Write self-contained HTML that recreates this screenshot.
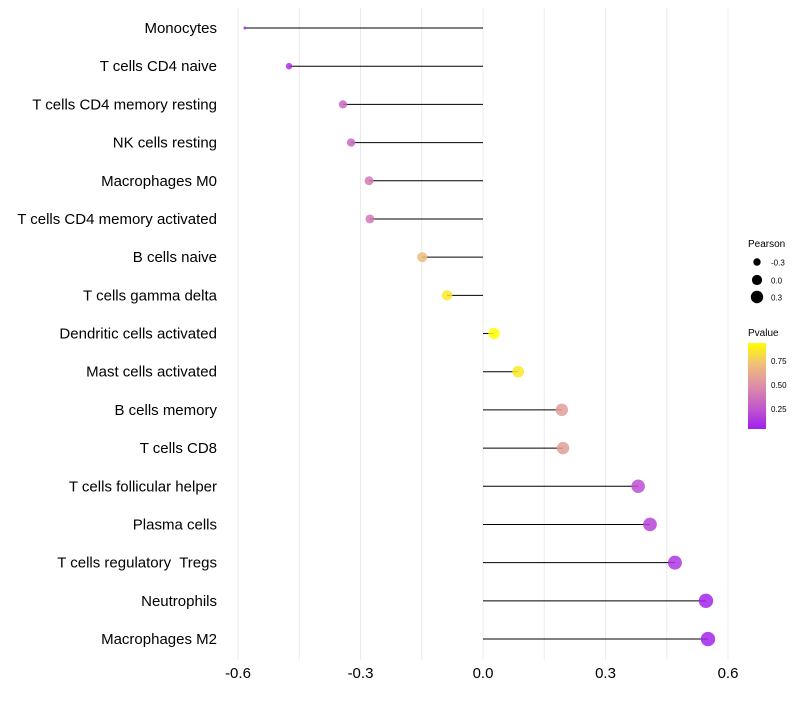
<!DOCTYPE html>
<html><head><meta charset="utf-8"><style>body{margin:0;background:#fff}text{font-family:"Liberation Sans",sans-serif}</style></head>
<body>
<svg id="chart" width="800" height="700" xmlns="http://www.w3.org/2000/svg">
<defs><linearGradient id="pg" x1="0" y1="1" x2="0" y2="0">
<stop offset="0" stop-color="#A020F0"/><stop offset="0.25" stop-color="#C35ACB"/><stop offset="0.5" stop-color="#DC8EA6"/><stop offset="0.75" stop-color="#F0BE7A"/><stop offset="1" stop-color="#FFFF00"/></linearGradient></defs>
<g id="grid"></g><g id="marks"></g><g id="labels"></g>
<g>
<text x="748" y="247" font-size="10">Pearson</text>
<circle cx="757" cy="262" r="3.7" fill="#000"/><text x="771" y="265.5" font-size="8">-0.3</text>
<circle cx="757" cy="280" r="5.1" fill="#000"/><text x="771" y="283.5" font-size="8">0.0</text>
<circle cx="757" cy="297" r="6.2" fill="#000"/><text x="771" y="300.5" font-size="8">0.3</text>
</g>
<g>
<text x="748" y="336" font-size="10">Pvalue</text>
<rect x="748" y="343" width="18" height="86" fill="url(#pg)"/>
<text x="771" y="364" font-size="8">0.75</text>
<text x="771" y="388" font-size="8">0.50</text>
<text x="771" y="412" font-size="8">0.25</text>
</g>
</svg>
<script>
const categories=["Monocytes","T cells CD4 naive","T cells CD4 memory resting","NK cells resting","Macrophages M0","T cells CD4 memory activated","B cells naive","T cells gamma delta","Dendritic cells activated","Mast cells activated","B cells memory","T cells CD8","T cells follicular helper","Plasma cells","T cells regulatory  Tregs","Neutrophils","Macrophages M2"];
const pearson=[-0.583,-0.475,-0.343,-0.323,-0.279,-0.277,-0.149,-0.088,0.027,0.086,0.193,0.196,0.380,0.409,0.470,0.546,0.551];
const pvalue=[0.08,0.12,0.32,0.33,0.40,0.40,0.70,0.85,0.95,0.86,0.56,0.56,0.22,0.19,0.14,0.07,0.07];
const xTicks=[-0.6,-0.3,0,0.3,0.6];
const xTickLabels=["-0.6","-0.3","0.0","0.3","0.6"];
const minorTicks=[-0.45,-0.15,0.15,0.45];
const NS="http://www.w3.org/2000/svg";
const x=v=>483+v*408.33;
const y=i=>28+i*38.19;
const pMin=0.05,pMax=0.93;
const stops=[[0,[160,32,240]],[0.25,[195,90,203]],[0.5,[220,142,166]],[0.75,[240,190,122]],[1,[255,255,0]]];
function col(p){let t=Math.max(0,Math.min(1,(p-pMin)/(pMax-pMin)));for(let k=1;k<stops.length;k++){if(t<=stops[k][0]){const a=stops[k-1],b=stops[k];const f=(t-a[0])/(b[0]-a[0]);const c=a[1].map((v,j)=>Math.round(v+(b[1][j]-v)*f));return`rgb(${c})`;}}return"rgb(255,255,0)";}
const pmin=Math.min(...pearson),pmax=Math.max(...pearson);
const rad=v=>1.5+5.7*Math.sqrt((v-pmin)/(pmax-pmin));
function mk(t,a,p){const e=document.createElementNS(NS,t);for(const k in a)e.setAttribute(k,a[k]);p.appendChild(e);return e;}
const grid=document.getElementById('grid'),marks=document.getElementById('marks'),labels=document.getElementById('labels');
[...xTicks,...minorTicks].forEach(v=>{const l=mk('line',{x1:x(v),x2:x(v),y1:8,y2:660,stroke:'#ebebeb','stroke-width':1},grid);

});
xTicks.forEach((v,i)=>{const t=mk('text',{x:x(v),y:678,'font-size':15,'text-anchor':'middle',fill:'#000'},labels);t.textContent=xTickLabels[i];

});
categories.forEach((c,i)=>{
const l=mk('line',{x1:x(0),x2:x(pearson[i]),y1:y(i),y2:y(i),stroke:'#000','stroke-width':1},marks);


const p=mk('circle',{cx:x(pearson[i]),cy:y(i),r:rad(pearson[i]),fill:col(pvalue[i]),'fill-opacity':0.85},marks);


const t=mk('text',{x:217,y:y(i)+5,'font-size':15,'text-anchor':'end',fill:'#000',style:'white-space:pre'},labels);t.textContent=c;


});
</script>
</body></html>
